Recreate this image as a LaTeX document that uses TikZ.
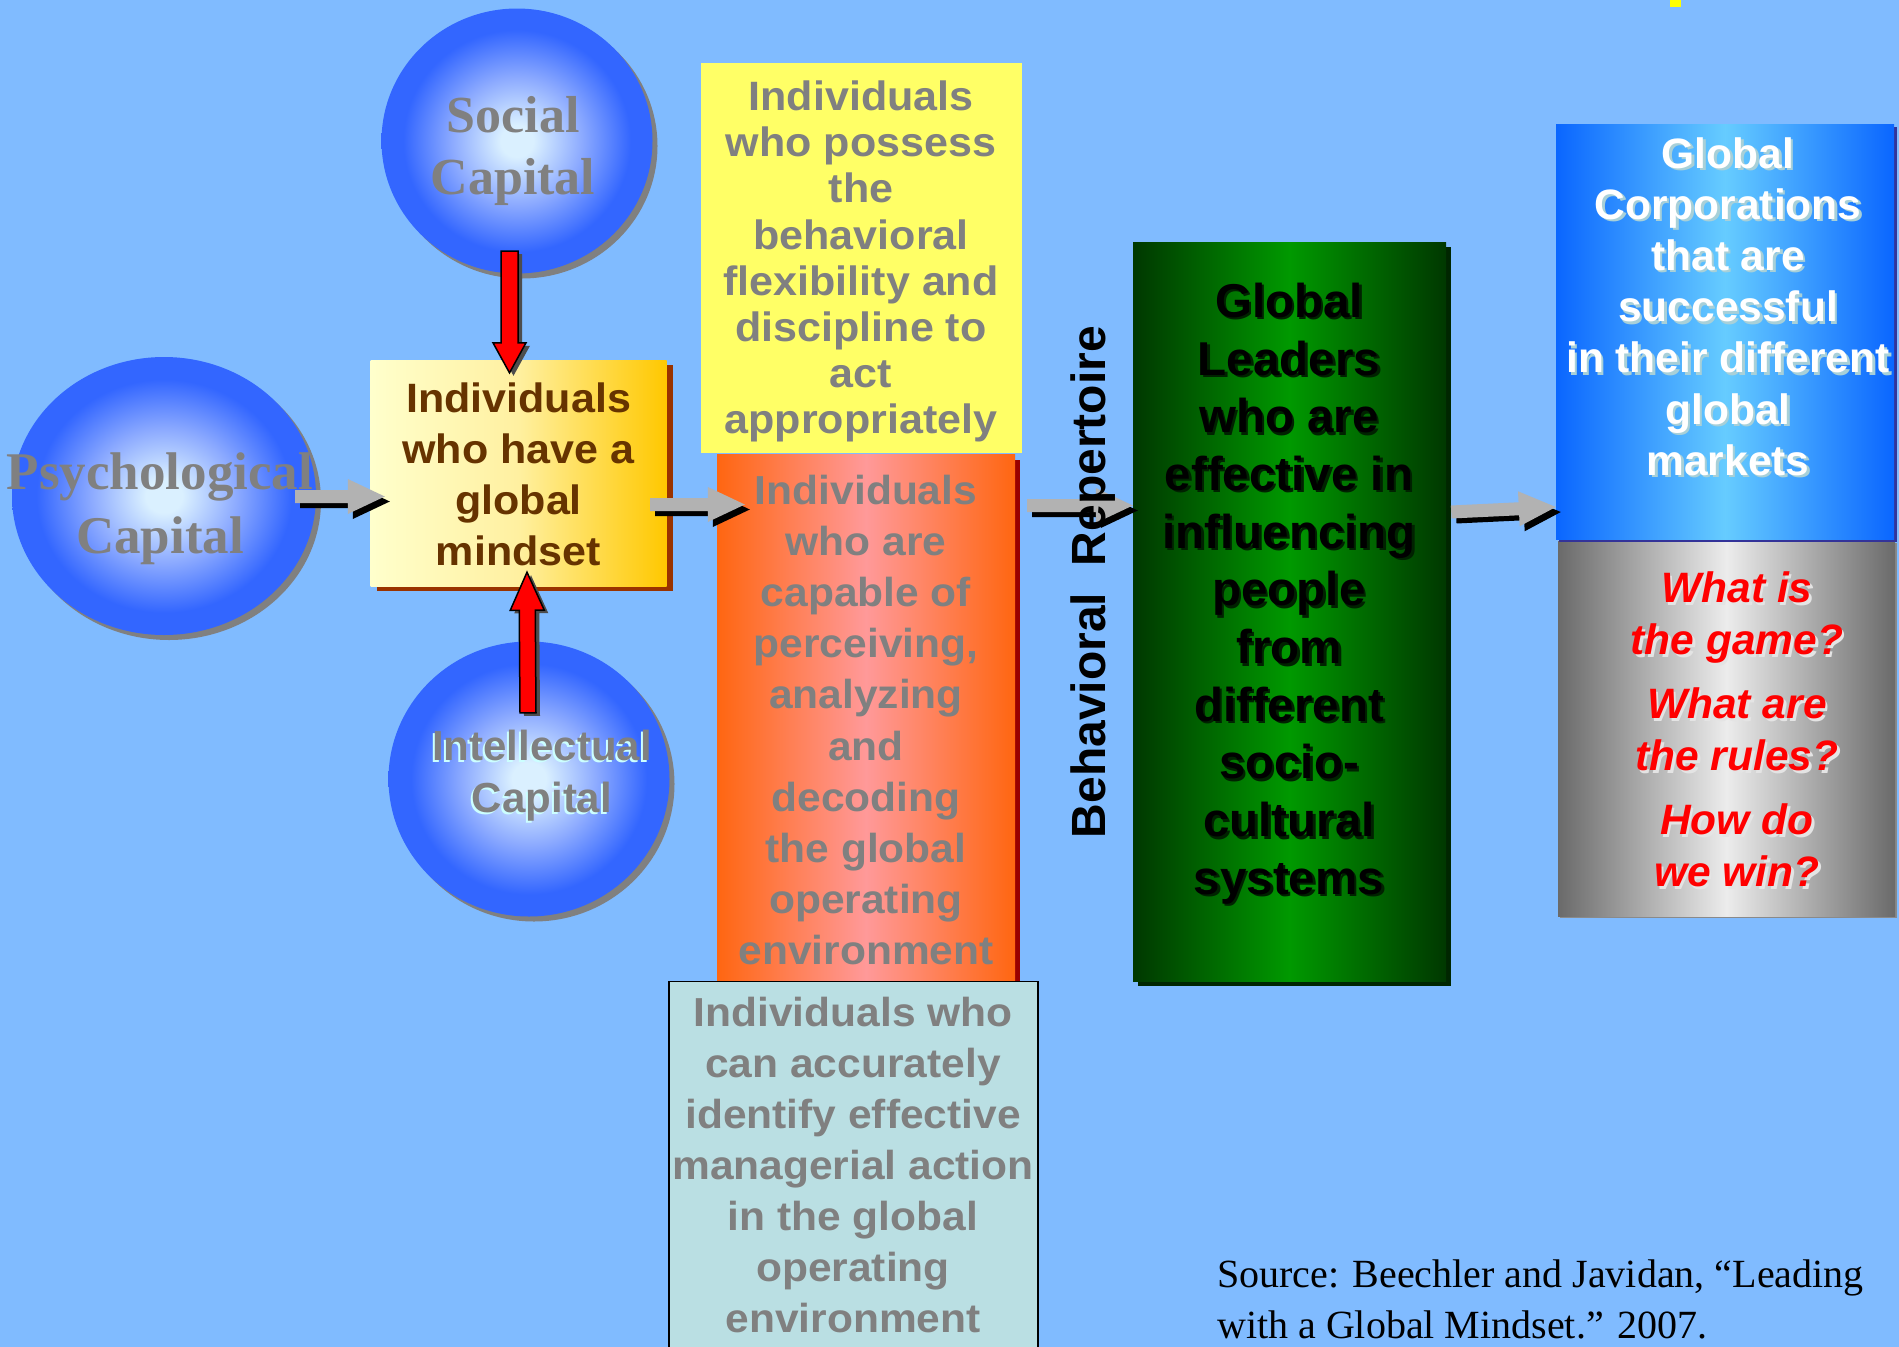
\documentclass[tikz,border=0pt]{standalone}
\usepackage{fontspec}
\setmainfont{Liberation Serif}
\setsansfont{Liberation Sans}
\newfontfamily\widesans[FakeStretch=1.05]{Liberation Sans}
\usetikzlibrary{calc,shapes.geometric,shadows}

% palette
\definecolor{bgblue}{RGB}{128,187,255}
\definecolor{ballin}{RGB}{218,240,255}
\definecolor{ballmid}{RGB}{140,170,255}
\definecolor{ballout}{RGB}{51,102,255}
\definecolor{ballshadow}{RGB}{128,128,128}
\definecolor{txtgray}{RGB}{128,128,128}
\definecolor{mindbrown}{RGB}{102,51,0}
\definecolor{msA}{RGB}{255,255,204}
\definecolor{msB}{RGB}{255,240,160}
\definecolor{msD}{RGB}{255,200,0}
\definecolor{msshadow}{RGB}{153,51,0}
\definecolor{flexyellow}{RGB}{255,255,102}
\definecolor{orA}{RGB}{255,102,17}
\definecolor{orB}{RGB}{255,153,153}
\definecolor{orshadow}{RGB}{153,0,0}
\definecolor{idblue}{RGB}{186,223,227}
\definecolor{grA}{RGB}{0,56,0}
\definecolor{grB}{RGB}{0,153,0}
\definecolor{grshadow}{RGB}{0,38,0}
\definecolor{grtxtshadow}{RGB}{0,34,0}
\definecolor{blA}{RGB}{10,102,255}
\definecolor{blB}{RGB}{102,204,255}
\definecolor{blshadow}{RGB}{51,51,153}
\definecolor{gyA}{RGB}{106,106,106}
\definecolor{gyB}{RGB}{236,236,236}
\definecolor{gyshadow}{RGB}{138,138,138}
\definecolor{arrowgray}{RGB}{178,178,178}
\definecolor{redshadow}{RGB}{77,77,77}
\definecolor{qshadow}{RGB}{228,228,228}
\definecolor{corpshadow}{RGB}{168,208,216}
\definecolor{intelshadow}{RGB}{204,255,255}
\definecolor{markyellow}{RGB}{255,255,0}

% sphere shading (the node outline sits at 25bp)
\pgfdeclareradialshading{ballshade}{\pgfpoint{0bp}{0bp}}{color(0bp)=(ballin); color(3bp)=(ballin); color(12bp)=(ballmid); color(21bp)=(ballout); color(50bp)=(ballout)}

% block arrow: style, from, to, shaft half width, head half width, head length
\newcommand\blockarrow[6]{%
  \coordinate (bahead) at ($(#3)!#6!(#2)$);
  \path[#1] ($(#2)!#4!90:(#3)$) -- ($(bahead)!#4!90:(#3)$) -- ($(bahead)!#5!90:(#3)$)
    -- (#3) -- ($(bahead)!#5!-90:(#3)$) -- ($(bahead)!#4!-90:(#3)$) -- ($(#2)!#4!-90:(#3)$) -- cycle;}

\newcommand\leadtxt{Global\\Leaders\\who are\\effective in\\influencing\\people\\from\\different\\socio-\\cultural\\systems}
\newcommand\corptxt{Global\\Corporations\\that are\\successful\\in their different\\global\\markets}
\newcommand\questtxt{What is\\the game?\\[12pt]What are\\the rules?\\[12pt]How do\\we win?}
\newcommand\inteltxt{Intellectual\\Capital}

\tikzset{
  ballnode/.style={ellipse, inner sep=0pt, shading=ballshade,
    drop shadow={shadow xshift=5pt, shadow yshift=-5pt, fill=ballshadow, opacity=1}},
  boxnode/.style={rectangle, inner sep=0pt},
  edgeshade/.style 2 args={left color=#1, right color=#1, middle color=#2},
  lbl/.style={inner sep=0pt, align=center},
  serifcap/.style={lbl, text=txtgray},
  grayarrowshadow/.style={fill=black, transform canvas={shift={(5,5)}}},
  grayarrow/.style={fill=arrowgray},
  redarrowshadow/.style={fill=redshadow, transform canvas={shift={(4,3)}}},
  redarrow/.style={fill=red, draw=black, line width=1.5pt, line join=miter},
}

\begin{document}
\begin{tikzpicture}[x=1pt, y=-1pt]
  \useasboundingbox (0,0) rectangle (1899,1347);
  \clip (0,0) rectangle (1899,1347);
  \fill[bgblue] (0,0) rectangle (1899,1347);

  % capital spheres
  \node[ballnode, minimum width=304pt, minimum height=278pt] (psy) at (164,496) {};
  \node[ballnode, minimum width=271pt, minimum height=265pt] (soc) at (517,141) {};
  \node[ballnode, minimum width=281pt, minimum height=275pt] (intel) at (529,779) {};

  % boxes
  \node[boxnode, left color=msA, right color=msD, middle color=msB, minimum width=296pt, minimum height=226pt,
        drop shadow={shadow xshift=6pt, shadow yshift=-5pt, fill=msshadow, opacity=1}] (mind) at (518.5,473) {};
  \node[boxnode, fill=flexyellow, minimum width=321pt, minimum height=390pt] (flex) at (861.5,258) {};
  \node[boxnode, edgeshade={orA}{orB}, minimum width=298pt, minimum height=527pt,
        drop shadow={shadow xshift=5pt, shadow yshift=-6pt, fill=orshadow, opacity=1}] (perc) at (866,717.5) {};
  \node[boxnode, fill=idblue, draw=black, line width=1.2pt, minimum width=369pt, minimum height=380pt] (ident) at (853.5,1171.5) {};
  \node[boxnode, edgeshade={grA}{grB}, minimum width=313pt, minimum height=739pt,
        drop shadow={shadow xshift=5pt, shadow yshift=-5pt, fill=grshadow, opacity=1}] (lead) at (1289.5,611.5) {};
  \node[boxnode, edgeshade={gyA}{gyB}, minimum width=337pt, minimum height=375pt,
        drop shadow={shadow xshift=2pt, shadow yshift=-2pt, fill=gyshadow, opacity=1}] (quest) at (1726.5,728.5) {};
  \node[boxnode, edgeshade={blA}{blB}, minimum width=338pt, minimum height=415pt,
        drop shadow={shadow xshift=3pt, shadow yshift=-3pt, fill=blshadow, opacity=1}] (corp) at (1725,331.5) {};

  % red arrows into the mindset box
  \coordinate (r1s) at ($(soc.south)+(-7.5,-22.5)$);
  \coordinate (r1e) at ($(mind.north)+(-9,13)$);
  \coordinate (r2s) at ($(intel.north)+(-1,71.5)$);
  \coordinate (r2e) at ($(mind.south)+(8.5,-14)$);
  \blockarrow{redarrowshadow}{r1s}{r1e}{8.5pt}{16.5pt}{30pt}
  \blockarrow{redarrow}{r1s}{r1e}{8.5pt}{16.5pt}{30pt}
  \blockarrow{redarrowshadow}{r2s}{r2e}{8pt}{17pt}{38pt}
  \blockarrow{redarrow}{r2s}{r2e}{8pt}{17pt}{38pt}

  % gray flow arrows
  \coordinate (a1s) at ($(psy.east)+(-21,0.5)$);
  \coordinate (a1e) at ($(mind.west)+(14.5,23.5)$);
  \coordinate (a2s) at ($(mind.east)+(-16.5,31.5)$);
  \coordinate (a2e) at ($(perc.west)+(28,-213)$);
  \coordinate (a3s) at ($(perc.east)+(12,-212)$);
  \coordinate (a3e) at ($(lead.west)+(0,-106)$);
  \coordinate (a4s) at ($(lead.east)+(5,-99.5)$);
  \coordinate (a4e) at ($(corp.west)+(0,175.5)$);
  \foreach \s/\e in {a1s/a1e, a2s/a2e, a3s/a3e, a4s/a4e}{
    \blockarrow{grayarrowshadow}{\s}{\e}{6.5pt}{17.5pt}{37pt}
    \blockarrow{grayarrow}{\s}{\e}{6.5pt}{17.5pt}{37pt}
  }

  % sphere labels
  \node[serifcap, font=\rmfamily\bfseries\fontsize{53}{64}\selectfont] (psytext) at (160,508.6) {Psychological\\Capital};
  \node[serifcap, font=\rmfamily\bfseries\fontsize{52}{62}\selectfont] (soctext) at (513,150.9) {Social\\Capital};
  \coordinate (intelpos) at (542,775.4);
  \node[lbl, text=intelshadow, font=\sffamily\bfseries\fontsize{42}{52}\selectfont] (intelsh) at ($(intelpos)+(-2,2)$) {\inteltxt};
  \node[lbl, text=txtgray, font=\sffamily\bfseries\fontsize{42}{52}\selectfont] (inteltext) at (intelpos) {\inteltxt};

  % box labels
  \node[lbl, text=mindbrown, font=\widesans\bfseries\fontsize{41}{51}\selectfont] (mindtext) at (518.5,474.2)
    {Individuals\\who have a\\global\\mindset};
  \node[lbl, text=txtgray, font=\widesans\bfseries\fontsize{41}{46.2}\selectfont] (flextext) at (861,261.6)
    {Individuals\\who possess\\the\\behavioral\\flexibility and\\discipline to\\act\\appropriately};
  \node[lbl, text=txtgray, font=\widesans\bfseries\fontsize{40.5}{51.2}\selectfont] (perctext) at (866,720.1)
    {Individuals\\who are\\capable of\\perceiving,\\analyzing\\and\\decoding\\the global\\operating\\environment};
  \node[lbl, text=txtgray, font=\widesans\bfseries\fontsize{40.5}{51}\selectfont] (identtext) at (853,1165.3)
    {Individuals who\\can accurately\\identify effective\\managerial action\\in the global\\operating\\environment};

  \coordinate (leadpos) at (1289,593.6);
  \node[lbl, text=grtxtshadow, font=\sffamily\bfseries\fontsize{47.5}{57.7}\selectfont] (leadsh) at ($(leadpos)+(2.5,2.5)$) {\leadtxt};
  \node[lbl, text=black, font=\sffamily\bfseries\fontsize{47.5}{57.7}\selectfont] (leadtext) at (leadpos) {\leadtxt};

  \coordinate (corppos) at (1728,306.5);
  \node[lbl, text=corpshadow, font=\sffamily\bfseries\fontsize{42.5}{51.2}\selectfont] (corpsh) at ($(corppos)+(2.5,2.5)$) {\corptxt};
  \node[lbl, text=white, font=\sffamily\bfseries\fontsize{42.5}{51.2}\selectfont] (corptext) at (corppos) {\corptxt};

  \coordinate (questpos) at (1737,729.7);
  \node[lbl, text=qshadow, font=\sffamily\bfseries\itshape\fontsize{42.5}{52}\selectfont] (questsh) at ($(questpos)+(2.5,2.5)$) {\questtxt};
  \node[lbl, text=red, font=\sffamily\bfseries\itshape\fontsize{42.5}{52}\selectfont] (questtext) at (questpos) {\questtxt};

  % side label along the third arrow
  \node[inner sep=0pt, rotate=90, anchor=base, font=\sffamily\bfseries\fontsize{48}{58}\selectfont] (behav) at (1105,582)
    {Behavioral\ \ Repertoire};

  % citation
  \node[inner sep=0pt, align=left, anchor=west, font=\rmfamily\fontsize{40}{51}\selectfont] (src) at (1217,1298.9)
    {Source: Beechler and Javidan, “Leading\\with a Global Mindset.” 2007.};

  % small mark at the top edge
  \fill[markyellow] (1670,0) rectangle (1681,6.5);
\end{tikzpicture}
\end{document}
